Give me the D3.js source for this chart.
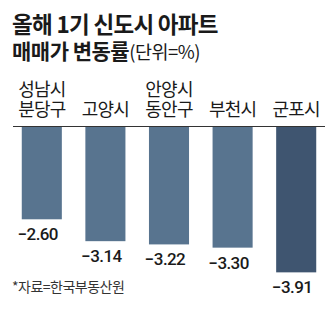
<!DOCTYPE html>
<html>
<head>
<meta charset="utf-8">
<script src="https://cdn.jsdelivr.net/npm/d3@7"></script>
<style>
  html, body { margin: 0; padding: 0; background: #fff; }
  svg { display: block; }
</style>
</head>
<body>
<svg id="chart" width="336" height="332"></svg>
<script>
// 1st-generation new town apartment sale price change this year (%)
const cities = [["성남시", "분당구"], ["고양시"], ["안양시", "동안구"], ["부천시"], ["군포시"]];
const changes = [-2.60, -3.14, -3.22, -3.30, -3.91];
const barColors = ["#58748f", "#58748f", "#58748f", "#58748f", "#3f5570"];
const titleLines = ["올해 1기 신도시 아파트", "매매가 변동률"];
const unitNote = "(단위=%)";
const sourceNote = "*자료=한국부동산원";

const svg = d3.select("#chart");
const korean = "'Noto Sans CJK KR', 'Noto Sans', sans-serif";
const numeric = "Roboto, 'Liberation Sans', sans-serif";

const baseline = 127;

const x = d3.scaleBand()
  .domain(d3.range(changes.length))
  .range([10, 328])
  .paddingInner(0.37)
  .paddingOuter(0.185);

const y = d3.scaleLinear().domain([0, -4]).range([114, 276]);

// two-line title, second line carries the unit note
const title = svg.append("text")
  .attr("font-family", korean).attr("fill", "#1a1a1a");
title.append("tspan")
  .attr("x", 12).attr("y", 33)
  .attr("font-weight", 700).attr("font-size", 22.5)
  .attr("letter-spacing", -0.7)
  .text(titleLines[0]);
title.append("tspan")
  .attr("x", 12).attr("y", 59)
  .attr("font-weight", 700).attr("font-size", 21)
  .attr("letter-spacing", -0.5)
  .text(titleLines[1]);
title.append("tspan")
  .attr("font-weight", 400).attr("font-size", 18.5)
  .attr("letter-spacing", -0.5)
  .text(unitNote);

// category labels (one text per category, lines as tspans)
const cat = svg.append("g")
  .attr("font-family", korean).attr("font-size", 18)
  .attr("fill", "#1a1a1a").attr("text-anchor", "middle");
cities.forEach((lines, i) => {
  const cx = x(i) + x.bandwidth() / 2;
  const t = cat.append("text").attr("letter-spacing", -0.8);
  lines.forEach((line, j) => {
    t.append("tspan")
      .attr("x", cx)
      .attr("y", 116 - (lines.length - 1 - j) * 20)
      .text(line);
  });
});

// bars
svg.append("g").selectAll("rect")
  .data(changes)
  .join("rect")
  .attr("x", (d, i) => x(i))
  .attr("y", baseline)
  .attr("width", x.bandwidth())
  .attr("height", d => y(d) - baseline)
  .attr("fill", (d, i) => barColors[i]);

// axis line
svg.append("line")
  .attr("x1", 13).attr("x2", 325)
  .attr("y1", baseline - 0.5).attr("y2", baseline - 0.5)
  .attr("stroke", "#333").attr("stroke-width", 1);

// value labels
const fmt = d3.format(".2f");
svg.append("g").selectAll("text")
  .data(changes)
  .join("text")
  .attr("x", (d, i) => x(i) + x.bandwidth() / 2 - 4)
  .attr("y", d => y(d) + 21)
  .attr("text-anchor", "middle")
  .attr("font-family", numeric)
  .attr("font-weight", 500)
  .attr("font-size", 17)
  .attr("letter-spacing", -0.6)
  .attr("fill", "#1a1a1a")
  .text(d => fmt(d));

// source
svg.append("text")
  .attr("x", 12).attr("y", 292)
  .attr("font-family", korean).attr("font-size", 14)
  .attr("fill", "#333").attr("letter-spacing", -0.5)
  .text(sourceNote);
</script>
</body>
</html>
